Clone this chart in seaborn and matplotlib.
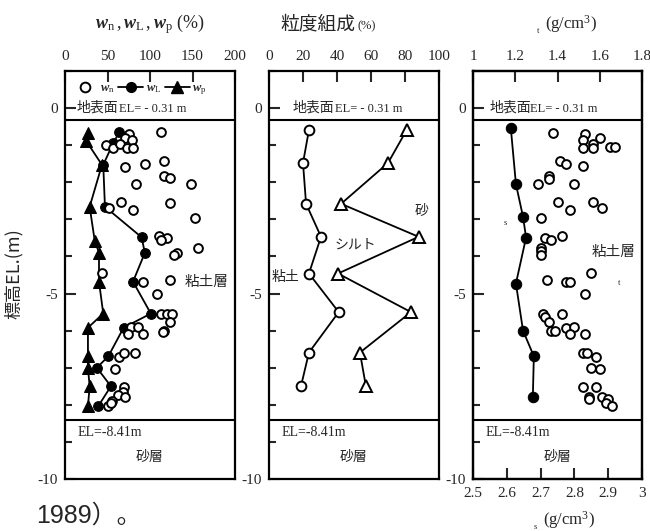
import matplotlib
matplotlib.use('Agg')
import matplotlib.pyplot as plt
from matplotlib.lines import Line2D
from matplotlib.ticker import MultipleLocator
import seaborn as sns

# ---- data ----
# natural water content w_n (open circles)
wn_el = [-0.65, -0.71, -0.81, -0.86, -1.0, -1.07, -0.97, -1.08, -1.08, -1.59, -1.51, -1.42,
         -1.83, -1.88, -2.04, -2.04, -2.53, -2.55, -2.69, -2.74, -2.96, -3.44, -3.5, -3.55,
         -3.76, -3.9, -3.95, -4.44, -4.7, -4.63, -5.0, -5.56, -5.56, -5.54, -5.78, -6.0,
         -6.05, -5.91, -5.91, -6.08, -6.08, -6.72, -6.61, -6.61, -7.04, -7.52, -7.66, -7.74,
         -7.8, -7.9, -8.04, -7.96]
wn = [113, 75, 71, 79, 48, 57, 65, 73, 80, 71, 94, 117,
      117, 123, 84, 148, 66, 123, 52, 80, 153, 111, 120, 113,
      156, 132, 128, 43, 92, 123, 108, 113, 120, 126, 123, 116,
      115, 78, 86, 74, 92, 64, 69, 82, 59, 69, 68, 62,
      71, 55, 50, 54]
# liquid limit w_L
wl_el = [-0.65, -0.93, -1.53, -2.66, -3.48, -3.9, -4.68, -5.54, -5.92, -6.69, -7.0, -7.5, -8.04]
wl = [64, 57, 45, 47, 90, 94, 80, 101, 69, 51, 37.5, 54, 39]
# plastic limit w_p
wp_el = [-0.67, -0.89, -1.53, -2.66, -3.58, -3.9, -4.68, -5.54, -5.92, -6.69, -7.0, -7.5, -8.04]
wp = [27, 25, 43.5, 29, 35, 40, 40, 45, 27, 27, 27, 29, 27]

# grain size composition (%)
grain_el = [-0.59, -1.48, -2.58, -3.47, -4.46, -5.5, -6.59, -7.5]
clay = [23.5, 20, 21.8, 30.6, 23.5, 41, 23.5, 18.8]
clay_silt = [81, 70, 42.4, 88, 40.6, 83.5, 53.5, 57]

# density rho_t (open circles, top axis)
rt_el = [-0.67, -0.7, -0.86, -0.81, -0.97, -1.08, -1.08, -1.05, -1.05, -1.42, -1.51, -1.56,
         -1.83, -1.91, -2.04, -2.04, -2.53, -2.74, -2.53, -2.69, -2.96, -3.49, -3.55, -3.44,
         -3.76, -3.84, -3.95, -4.44, -4.63, -4.7, -4.7, -5.0, -5.54, -5.62, -5.56, -5.78,
         -6.02, -6.0, -5.94, -5.89, -6.08, -6.08, -6.61, -6.61, -6.72, -7.02, -7.04, -7.53,
         -7.53, -7.8, -7.85, -7.8, -7.85, -7.96, -8.04]
rho_t = [1.38, 1.53, 1.52, 1.60, 1.57, 1.52, 1.57, 1.65, 1.67, 1.41, 1.44, 1.52,
         1.36, 1.36, 1.31, 1.48, 1.40, 1.46, 1.57, 1.61, 1.32, 1.34, 1.37, 1.42,
         1.32, 1.32, 1.32, 1.56, 1.35, 1.44, 1.46, 1.53, 1.33, 1.34, 1.42, 1.36,
         1.37, 1.39, 1.44, 1.48, 1.46, 1.53, 1.52, 1.54, 1.58, 1.56, 1.60, 1.52,
         1.58, 1.55, 1.55, 1.61, 1.64, 1.63, 1.66]
# particle density rho_s (filled circles, bottom axis)
rs_el = [-0.55, -2.05, -2.93, -3.49, -4.73, -6.0, -6.69, -7.8]
rho_s = [2.612, 2.627, 2.648, 2.657, 2.627, 2.648, 2.68, 2.677]

ground_el = -0.31
sand_el = -8.41

w_ticks = [0, 50, 100, 150, 200]
w_labels = ['0', '50', '100', '150', '200']
g_ticks = [0, 20, 40, 60, 80, 100]
g_labels = ['0', '20', '40', '60', '80', '100']
rt_ticks = [1, 1.2, 1.4, 1.6, 1.8]
rt_labels = ['1', '1.2', '1.4', '1.6', '1.8']
rs_ticks = [2.5, 2.6, 2.7, 2.8, 2.9, 3]
rs_labels = ['2.5', '2.6', '2.7', '2.8', '2.9', '3']
y_ticks = [-10, -5, 0]
y_labels = ['-10', '-5', '0']

# ---- style ----
sns.set_style('white')
plt.rcParams['font.family'] = ['Liberation Serif', 'Noto Sans CJK JP']
plt.rcParams['mathtext.fontset'] = 'custom'
plt.rcParams['mathtext.rm'] = 'Liberation Serif'
plt.rcParams['mathtext.it'] = 'Liberation Serif:italic:bold'
plt.rcParams['mathtext.bf'] = 'Liberation Serif:bold'

fig = plt.figure(figsize=(6.5, 5.31), dpi=100)
bot, h = 1 - 479 / 531, 408 / 531
ax1 = fig.add_axes([65 / 650, bot, 170 / 650, h])
ax2 = fig.add_axes([269 / 650, bot, 170 / 650, h])
ax3 = fig.add_axes([473 / 650, bot, 169 / 650, h])
ax3t = ax3.twiny()

open_kw = dict(marker='o', s=40, facecolor='white', edgecolor='black', linewidth=1.4,
               legend=False, zorder=3)

# panel 1: water contents
sns.scatterplot(x=wn, y=wn_el, ax=ax1, **open_kw)
sns.lineplot(x=wl, y=wl_el, ax=ax1, sort=False, estimator=None, color='black', lw=1.3,
             marker='o', markersize=7, markeredgecolor='black', legend=False)
sns.lineplot(x=wp, y=wp_el, ax=ax1, sort=False, estimator=None, color='black', lw=1.3,
             marker='^', markersize=8, markeredgecolor='black', legend=False)

# panel 2: grain size
sns.lineplot(x=clay, y=grain_el, ax=ax2, sort=False, estimator=None, color='black', lw=1.3,
             marker='o', markersize=7, markerfacecolor='white', markeredgecolor='black',
             markeredgewidth=1.4, legend=False)
sns.lineplot(x=clay_silt, y=grain_el, ax=ax2, sort=False, estimator=None, color='black', lw=1.3,
             marker='^', markersize=9, markerfacecolor='white', markeredgecolor='black',
             markeredgewidth=1.4, legend=False)

# panel 3: densities
sns.lineplot(x=rho_s, y=rs_el, ax=ax3, sort=False, estimator=None, color='black', lw=1.3,
             marker='o', markersize=7.5, markeredgecolor='black', legend=False)
sns.scatterplot(x=rho_t, y=rt_el, ax=ax3t, **open_kw)

for ax in (ax1, ax2, ax3):
    ax.set_ylim(-10, 1)
    ax.set_yticks(y_ticks)
    ax.set_yticklabels(y_labels)
    ax.yaxis.set_minor_locator(MultipleLocator(1))
    ax.tick_params(axis='y', which='both', direction='in', left=True, right=False,
                   labelsize=11, width=1.5, pad=5)
    ax.tick_params(axis='y', which='major', length=8)
    ax.tick_params(axis='y', which='minor', length=5)
    ax.axhline(ground_el, color='black', lw=1.5)
    ax.axhline(sand_el, color='black', lw=1.5)
    ax.set_xlabel('')
    ax.set_ylabel('')

for ax in (ax1, ax2, ax3, ax3t):
    for s in ax.spines.values():
        s.set_linewidth(1.6)
        s.set_color('black')
        s.set_visible(True)

ax1.set_xlim(0, 200)
ax2.set_xlim(0, 100)
ax3.set_xlim(2.5, 3)
ax3t.set_xlim(1, 1.8)
ax3t.set_ylim(-10, 1)

for ax, ticks, labels in ((ax1, w_ticks, w_labels), (ax2, g_ticks, g_labels)):
    ax.xaxis.set_ticks_position('top')
    ax.xaxis.set_label_position('top')
    ax.set_xticks(ticks)
    ax.set_xticklabels(labels)
    ax.tick_params(axis='x', direction='in', length=8, width=1.5, labelsize=11, pad=6,
                   top=True, bottom=False)

ax3.set_xticks(rs_ticks)
ax3.set_xticklabels(rs_labels)
ax3.tick_params(axis='x', direction='in', length=8, width=1.5, labelsize=11, pad=6,
                top=False, bottom=True)
ax3t.set_xticks(rt_ticks)
ax3t.set_xticklabels(rt_labels)
ax3t.tick_params(axis='x', direction='in', length=8, width=1.5, labelsize=11, pad=6)
ax3t.tick_params(axis='y', left=False, right=False, labelleft=False, labelright=False)
ax3t.set_xlabel('')
ax3t.set_ylabel('')

# ground surface and sand layer annotations
trans_cfg = ((ax1, 0.065, 0.32), (ax2, 0.14, 0.39), (ax3, 0.095, 0.34))
for ax, xg, xe in trans_cfg:
    tr = ax.get_yaxis_transform()
    ax.text(xg, 0, '地表面', transform=tr, fontsize=10, va='center', ha='left')
    ax.text(xe, -0.02, 'EL= - 0.31 m', transform=tr, fontsize=9, va='center', ha='left')
    ax.text(0.075, -8.74, 'EL=-8.41m', transform=tr, fontsize=10, va='center', ha='left')
    ax.text(0.5, -9.41, '砂層', transform=tr, fontsize=10, va='center', ha='center')

ax1.text(167, -4.7, '粘土層', fontsize=10.5, va='center', ha='center')
ax2.text(90, -2.77, '砂', fontsize=10, va='center', ha='center')
ax2.text(51, -3.7, 'シルト', fontsize=10, va='center', ha='center')
ax2.text(10, -4.57, '粘土', fontsize=10, va='center', ha='center')
ax3.text(0.83, -3.9, '粘土層', transform=ax3.get_yaxis_transform(), fontsize=10.5,
         va='center', ha='center')
ax3.text(0.18, -3.1, 's', transform=ax3.get_yaxis_transform(), fontsize=6, va='center')
ax3.text(0.86, -4.72, 't', transform=ax3.get_yaxis_transform(), fontsize=6, va='center')

# legend in panel 1
handles = [
    Line2D([], [], marker='o', ls='none', mfc='white', mec='black', mew=1.4, ms=7),
    Line2D([], [], marker='o', color='black', lw=1.3, ms=7),
    Line2D([], [], marker='^', color='black', lw=1.3, ms=8),
]
ax1.legend(handles, [r'$w_{\rm n}$', r'$w_{\rm L}$', r'$w_{\rm p}$'], loc='center left',
           bbox_to_anchor=(0.0, 0.955), ncol=3, frameon=False, fontsize=9,
           handlelength=2.0, handletextpad=0.2, columnspacing=0.3, borderaxespad=0.2)

# titles and axis labels
fig.text(150 / 650, 1 - 24 / 531, r'$w_{\rm n}\,, w_{\rm L}\,, w_{\rm p}$ (%)', fontsize=13,
         ha='center', va='center')
fig.text(355 / 650, 1 - 24 / 531, '粒度組成', fontsize=13.5, ha='right', va='center',
         family=['Noto Sans CJK JP'])
fig.text(357 / 650, 1 - 26 / 531, '(%)', fontsize=9, ha='left', va='center')
fig.text(537 / 650, 1 - 31 / 531, 't', fontsize=6, ha='left', va='center')
fig.text(545 / 650, 1 - 24 / 531, '(g/cm$^3$)', fontsize=12, ha='left', va='center')
fig.text(534 / 650, 1 - 527 / 531, 's', fontsize=6, ha='left', va='center')
fig.text(543 / 650, 1 - 520 / 531, '(g/cm$^3$)', fontsize=12, ha='left', va='center')
fig.text(14 / 650, 1 - 274 / 531, '標高EL.(m)', fontsize=13, rotation=90, ha='center',
         va='center', family=['Noto Sans CJK JP'])
fig.text(36 / 650, 1 - 504 / 531, '1989）。', fontsize=18, ha='left', va='top',
         family=['Liberation Sans', 'Noto Sans CJK JP'])

fig.savefig('out.png', dpi=100)
